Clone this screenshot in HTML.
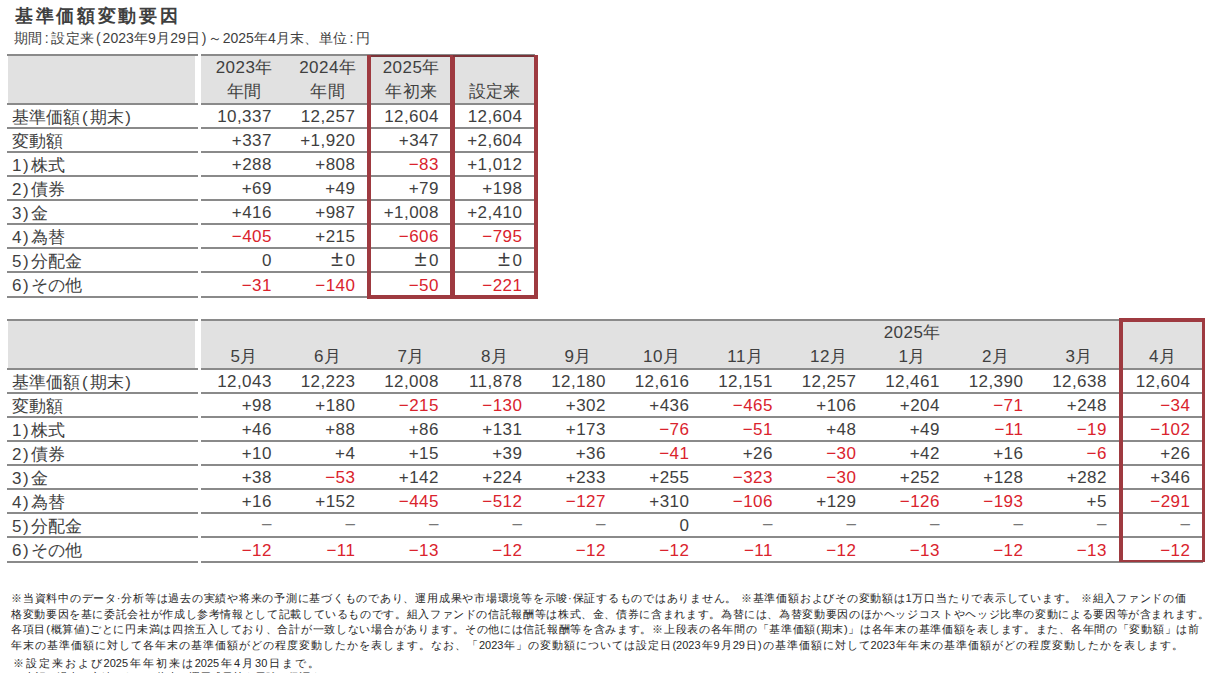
<!DOCTYPE html><html><head><meta charset="utf-8"><style>
html,body{margin:0;padding:0;background:#fff;}
body{width:1207px;height:673px;overflow:hidden;position:relative;font-family:"Liberation Sans",sans-serif;color:#3f3f3f;}
.t{position:absolute;white-space:nowrap;}
.n{font-size:17px;letter-spacing:0.45px;}
.h .dg{letter-spacing:0.45px;}
.l{font-size:17px;}
.h{font-size:17px;letter-spacing:0.45px;}
.d{color:#777;}
.pm{font-size:22px;margin-right:2px;line-height:0;}
.pl{padding:0 2px 0 2px;}
.c{padding:0 2.5px;}
.pr{padding:0 2px 0 1.5px;}
.fn{position:absolute;left:11px;font-size:11px;color:#262626;white-space:nowrap;line-height:15.5px;text-align:justify;text-align-last:justify;}

</style></head><body>
<div class="t" style="left:15px;top:3px;font-size:18px;letter-spacing:2.7px;font-weight:bold;line-height:26px;">基準価額変動要因</div>
<div class="t" style="left:14px;top:29px;width:356px;font-size:14px;line-height:18px;text-align:justify;text-align-last:justify;">期間<span class="c">:</span>設定来<span class="pl">(</span>2023年9月29日<span class="pr">)</span>～2025年4月末、単位<span class="c">:</span>円</div>
<div style="position:absolute;left:8.00px;top:56.00px;width:187.00px;height:47.00px;background:#e1e1e1"></div>
<div style="position:absolute;left:201.00px;top:56.00px;width:334.00px;height:47.00px;background:#e1e1e1"></div>
<div style="position:absolute;left:7.00px;top:54.00px;width:191.00px;height:2.00px;background:#8a8a8a"></div>
<div style="position:absolute;left:201.00px;top:54.00px;width:334.00px;height:2.00px;background:#8a8a8a"></div>
<div style="position:absolute;left:7.00px;top:103.00px;width:191.00px;height:2.00px;background:#8a8a8a"></div>
<div style="position:absolute;left:201.00px;top:103.00px;width:334.00px;height:2.00px;background:#8a8a8a"></div>
<div style="position:absolute;left:7.00px;top:127.00px;width:191.00px;height:2.00px;background:#8a8a8a"></div>
<div style="position:absolute;left:201.00px;top:127.00px;width:334.00px;height:2.00px;background:#8a8a8a"></div>
<div style="position:absolute;left:7.00px;top:151.00px;width:191.00px;height:2.00px;background:#8a8a8a"></div>
<div style="position:absolute;left:201.00px;top:151.00px;width:334.00px;height:2.00px;background:#8a8a8a"></div>
<div style="position:absolute;left:7.00px;top:175.00px;width:191.00px;height:2.00px;background:#8a8a8a"></div>
<div style="position:absolute;left:201.00px;top:175.00px;width:334.00px;height:2.00px;background:#8a8a8a"></div>
<div style="position:absolute;left:7.00px;top:199.00px;width:191.00px;height:2.00px;background:#8a8a8a"></div>
<div style="position:absolute;left:201.00px;top:199.00px;width:334.00px;height:2.00px;background:#8a8a8a"></div>
<div style="position:absolute;left:7.00px;top:223.00px;width:191.00px;height:2.00px;background:#8a8a8a"></div>
<div style="position:absolute;left:201.00px;top:223.00px;width:334.00px;height:2.00px;background:#8a8a8a"></div>
<div style="position:absolute;left:7.00px;top:247.00px;width:191.00px;height:2.00px;background:#8a8a8a"></div>
<div style="position:absolute;left:201.00px;top:247.00px;width:334.00px;height:2.00px;background:#8a8a8a"></div>
<div style="position:absolute;left:7.00px;top:271.00px;width:191.00px;height:2.00px;background:#8a8a8a"></div>
<div style="position:absolute;left:201.00px;top:271.00px;width:334.00px;height:2.00px;background:#8a8a8a"></div>
<div style="position:absolute;left:7.00px;top:296.00px;width:191.00px;height:2.00px;background:#8a8a8a"></div>
<div style="position:absolute;left:201.00px;top:296.00px;width:334.00px;height:2.00px;background:#8a8a8a"></div>
<div class="t h" style="left:202.50px;top:55.50px;width:83.50px;height:24.00px;line-height:24.00px;text-align:center;">2023年</div>
<div class="t h" style="left:202.50px;top:80.00px;width:83.50px;height:24.00px;line-height:24.00px;text-align:center;">年間</div>
<div class="t h" style="left:286.00px;top:55.50px;width:83.50px;height:24.00px;line-height:24.00px;text-align:center;">2024年</div>
<div class="t h" style="left:286.00px;top:80.00px;width:83.50px;height:24.00px;line-height:24.00px;text-align:center;">年間</div>
<div class="t h" style="left:369.50px;top:55.50px;width:83.50px;height:24.00px;line-height:24.00px;text-align:center;">2025年</div>
<div class="t h" style="left:369.50px;top:80.00px;width:83.50px;height:24.00px;line-height:24.00px;text-align:center;">年初来</div>
<div class="t h" style="left:453.00px;top:80.00px;width:83.50px;height:24.00px;line-height:24.00px;text-align:center;">設定来</div>
<div class="t l" style="left:12.00px;top:106.50px;width:185.00px;height:22.00px;line-height:22.00px;text-align:left;">基準価額<span class="pl">(</span>期末<span class="pr">)</span></div>
<div class="t n" style="left:201.00px;top:106.00px;width:70.85px;height:22.00px;line-height:22.00px;text-align:right;">10,337</div>
<div class="t n" style="left:284.50px;top:106.00px;width:70.85px;height:22.00px;line-height:22.00px;text-align:right;">12,257</div>
<div class="t n" style="left:368.00px;top:106.00px;width:70.85px;height:22.00px;line-height:22.00px;text-align:right;">12,604</div>
<div class="t n" style="left:451.50px;top:106.00px;width:70.85px;height:22.00px;line-height:22.00px;text-align:right;">12,604</div>
<div class="t l" style="left:12.00px;top:130.50px;width:185.00px;height:22.00px;line-height:22.00px;text-align:left;">変動額</div>
<div class="t n" style="left:201.00px;top:130.00px;width:70.85px;height:22.00px;line-height:22.00px;text-align:right;">+337</div>
<div class="t n" style="left:284.50px;top:130.00px;width:70.85px;height:22.00px;line-height:22.00px;text-align:right;">+1,920</div>
<div class="t n" style="left:368.00px;top:130.00px;width:70.85px;height:22.00px;line-height:22.00px;text-align:right;">+347</div>
<div class="t n" style="left:451.50px;top:130.00px;width:70.85px;height:22.00px;line-height:22.00px;text-align:right;">+2,604</div>
<div class="t l" style="left:12.00px;top:154.50px;width:185.00px;height:22.00px;line-height:22.00px;text-align:left;">1<span class="pr">)</span>株式</div>
<div class="t n" style="left:201.00px;top:154.00px;width:70.85px;height:22.00px;line-height:22.00px;text-align:right;">+288</div>
<div class="t n" style="left:284.50px;top:154.00px;width:70.85px;height:22.00px;line-height:22.00px;text-align:right;">+808</div>
<div class="t n" style="left:368.00px;top:154.00px;width:70.85px;height:22.00px;line-height:22.00px;text-align:right;color:#da232d;">−83</div>
<div class="t n" style="left:451.50px;top:154.00px;width:70.85px;height:22.00px;line-height:22.00px;text-align:right;">+1,012</div>
<div class="t l" style="left:12.00px;top:178.50px;width:185.00px;height:22.00px;line-height:22.00px;text-align:left;">2<span class="pr">)</span>債券</div>
<div class="t n" style="left:201.00px;top:178.00px;width:70.85px;height:22.00px;line-height:22.00px;text-align:right;">+69</div>
<div class="t n" style="left:284.50px;top:178.00px;width:70.85px;height:22.00px;line-height:22.00px;text-align:right;">+49</div>
<div class="t n" style="left:368.00px;top:178.00px;width:70.85px;height:22.00px;line-height:22.00px;text-align:right;">+79</div>
<div class="t n" style="left:451.50px;top:178.00px;width:70.85px;height:22.00px;line-height:22.00px;text-align:right;">+198</div>
<div class="t l" style="left:12.00px;top:202.50px;width:185.00px;height:22.00px;line-height:22.00px;text-align:left;">3<span class="pr">)</span>金</div>
<div class="t n" style="left:201.00px;top:202.00px;width:70.85px;height:22.00px;line-height:22.00px;text-align:right;">+416</div>
<div class="t n" style="left:284.50px;top:202.00px;width:70.85px;height:22.00px;line-height:22.00px;text-align:right;">+987</div>
<div class="t n" style="left:368.00px;top:202.00px;width:70.85px;height:22.00px;line-height:22.00px;text-align:right;">+1,008</div>
<div class="t n" style="left:451.50px;top:202.00px;width:70.85px;height:22.00px;line-height:22.00px;text-align:right;">+2,410</div>
<div class="t l" style="left:12.00px;top:226.50px;width:185.00px;height:22.00px;line-height:22.00px;text-align:left;">4<span class="pr">)</span>為替</div>
<div class="t n" style="left:201.00px;top:226.00px;width:70.85px;height:22.00px;line-height:22.00px;text-align:right;color:#da232d;">−405</div>
<div class="t n" style="left:284.50px;top:226.00px;width:70.85px;height:22.00px;line-height:22.00px;text-align:right;">+215</div>
<div class="t n" style="left:368.00px;top:226.00px;width:70.85px;height:22.00px;line-height:22.00px;text-align:right;color:#da232d;">−606</div>
<div class="t n" style="left:451.50px;top:226.00px;width:70.85px;height:22.00px;line-height:22.00px;text-align:right;color:#da232d;">−795</div>
<div class="t l" style="left:12.00px;top:250.50px;width:185.00px;height:22.00px;line-height:22.00px;text-align:left;">5<span class="pr">)</span>分配金</div>
<div class="t n" style="left:201.00px;top:250.00px;width:70.85px;height:22.00px;line-height:22.00px;text-align:right;">0</div>
<div class="t n" style="left:284.50px;top:250.00px;width:70.85px;height:22.00px;line-height:22.00px;text-align:right;"><span class="pm">±</span>0</div>
<div class="t n" style="left:368.00px;top:250.00px;width:70.85px;height:22.00px;line-height:22.00px;text-align:right;"><span class="pm">±</span>0</div>
<div class="t n" style="left:451.50px;top:250.00px;width:70.85px;height:22.00px;line-height:22.00px;text-align:right;"><span class="pm">±</span>0</div>
<div class="t l" style="left:12.00px;top:275.20px;width:185.00px;height:22.00px;line-height:22.00px;text-align:left;">6<span class="pr">)</span>その他</div>
<div class="t n" style="left:201.00px;top:274.70px;width:70.85px;height:22.00px;line-height:22.00px;text-align:right;color:#da232d;">−31</div>
<div class="t n" style="left:284.50px;top:274.70px;width:70.85px;height:22.00px;line-height:22.00px;text-align:right;color:#da232d;">−140</div>
<div class="t n" style="left:368.00px;top:274.70px;width:70.85px;height:22.00px;line-height:22.00px;text-align:right;color:#da232d;">−50</div>
<div class="t n" style="left:451.50px;top:274.70px;width:70.85px;height:22.00px;line-height:22.00px;text-align:right;color:#da232d;">−221</div>
<div style="position:absolute;left:8.00px;top:321.00px;width:187.00px;height:47.00px;background:#e1e1e1"></div>
<div style="position:absolute;left:201.00px;top:321.00px;width:1002.00px;height:47.00px;background:#e1e1e1"></div>
<div style="position:absolute;left:7.00px;top:319.00px;width:191.00px;height:2.00px;background:#8a8a8a"></div>
<div style="position:absolute;left:201.00px;top:319.00px;width:1002.00px;height:2.00px;background:#8a8a8a"></div>
<div style="position:absolute;left:7.00px;top:368.00px;width:191.00px;height:2.00px;background:#8a8a8a"></div>
<div style="position:absolute;left:201.00px;top:368.00px;width:1002.00px;height:2.00px;background:#8a8a8a"></div>
<div style="position:absolute;left:7.00px;top:392.00px;width:191.00px;height:2.00px;background:#8a8a8a"></div>
<div style="position:absolute;left:201.00px;top:392.00px;width:1002.00px;height:2.00px;background:#8a8a8a"></div>
<div style="position:absolute;left:7.00px;top:416.00px;width:191.00px;height:2.00px;background:#8a8a8a"></div>
<div style="position:absolute;left:201.00px;top:416.00px;width:1002.00px;height:2.00px;background:#8a8a8a"></div>
<div style="position:absolute;left:7.00px;top:440.00px;width:191.00px;height:2.00px;background:#8a8a8a"></div>
<div style="position:absolute;left:201.00px;top:440.00px;width:1002.00px;height:2.00px;background:#8a8a8a"></div>
<div style="position:absolute;left:7.00px;top:464.00px;width:191.00px;height:2.00px;background:#8a8a8a"></div>
<div style="position:absolute;left:201.00px;top:464.00px;width:1002.00px;height:2.00px;background:#8a8a8a"></div>
<div style="position:absolute;left:7.00px;top:488.00px;width:191.00px;height:2.00px;background:#8a8a8a"></div>
<div style="position:absolute;left:201.00px;top:488.00px;width:1002.00px;height:2.00px;background:#8a8a8a"></div>
<div style="position:absolute;left:7.00px;top:512.00px;width:191.00px;height:2.00px;background:#8a8a8a"></div>
<div style="position:absolute;left:201.00px;top:512.00px;width:1002.00px;height:2.00px;background:#8a8a8a"></div>
<div style="position:absolute;left:7.00px;top:536.00px;width:191.00px;height:2.00px;background:#8a8a8a"></div>
<div style="position:absolute;left:201.00px;top:536.00px;width:1002.00px;height:2.00px;background:#8a8a8a"></div>
<div style="position:absolute;left:7.00px;top:561.00px;width:191.00px;height:2.00px;background:#8a8a8a"></div>
<div style="position:absolute;left:201.00px;top:561.00px;width:1002.00px;height:2.00px;background:#8a8a8a"></div>
<div class="t h" style="left:202.50px;top:345.00px;width:83.50px;height:24.00px;line-height:24.00px;text-align:center;">5月</div>
<div class="t h" style="left:286.00px;top:345.00px;width:83.50px;height:24.00px;line-height:24.00px;text-align:center;">6月</div>
<div class="t h" style="left:369.50px;top:345.00px;width:83.50px;height:24.00px;line-height:24.00px;text-align:center;">7月</div>
<div class="t h" style="left:453.00px;top:345.00px;width:83.50px;height:24.00px;line-height:24.00px;text-align:center;">8月</div>
<div class="t h" style="left:536.50px;top:345.00px;width:83.50px;height:24.00px;line-height:24.00px;text-align:center;">9月</div>
<div class="t h" style="left:620.00px;top:345.00px;width:83.50px;height:24.00px;line-height:24.00px;text-align:center;">10月</div>
<div class="t h" style="left:703.50px;top:345.00px;width:83.50px;height:24.00px;line-height:24.00px;text-align:center;">11月</div>
<div class="t h" style="left:787.00px;top:345.00px;width:83.50px;height:24.00px;line-height:24.00px;text-align:center;">12月</div>
<div class="t h" style="left:870.50px;top:320.50px;width:83.50px;height:24.00px;line-height:24.00px;text-align:center;">2025年</div>
<div class="t h" style="left:870.50px;top:345.00px;width:83.50px;height:24.00px;line-height:24.00px;text-align:center;">1月</div>
<div class="t h" style="left:954.00px;top:345.00px;width:83.50px;height:24.00px;line-height:24.00px;text-align:center;">2月</div>
<div class="t h" style="left:1037.50px;top:345.00px;width:83.50px;height:24.00px;line-height:24.00px;text-align:center;">3月</div>
<div class="t h" style="left:1121.00px;top:345.00px;width:83.50px;height:24.00px;line-height:24.00px;text-align:center;">4月</div>
<div class="t l" style="left:12.00px;top:371.50px;width:185.00px;height:22.00px;line-height:22.00px;text-align:left;">基準価額<span class="pl">(</span>期末<span class="pr">)</span></div>
<div class="t n" style="left:201.00px;top:371.00px;width:70.85px;height:22.00px;line-height:22.00px;text-align:right;">12,043</div>
<div class="t n" style="left:284.50px;top:371.00px;width:70.85px;height:22.00px;line-height:22.00px;text-align:right;">12,223</div>
<div class="t n" style="left:368.00px;top:371.00px;width:70.85px;height:22.00px;line-height:22.00px;text-align:right;">12,008</div>
<div class="t n" style="left:451.50px;top:371.00px;width:70.85px;height:22.00px;line-height:22.00px;text-align:right;">11,878</div>
<div class="t n" style="left:535.00px;top:371.00px;width:70.85px;height:22.00px;line-height:22.00px;text-align:right;">12,180</div>
<div class="t n" style="left:618.50px;top:371.00px;width:70.85px;height:22.00px;line-height:22.00px;text-align:right;">12,616</div>
<div class="t n" style="left:702.00px;top:371.00px;width:70.85px;height:22.00px;line-height:22.00px;text-align:right;">12,151</div>
<div class="t n" style="left:785.50px;top:371.00px;width:70.85px;height:22.00px;line-height:22.00px;text-align:right;">12,257</div>
<div class="t n" style="left:869.00px;top:371.00px;width:70.85px;height:22.00px;line-height:22.00px;text-align:right;">12,461</div>
<div class="t n" style="left:952.50px;top:371.00px;width:70.85px;height:22.00px;line-height:22.00px;text-align:right;">12,390</div>
<div class="t n" style="left:1036.00px;top:371.00px;width:70.85px;height:22.00px;line-height:22.00px;text-align:right;">12,638</div>
<div class="t n" style="left:1119.50px;top:371.00px;width:70.85px;height:22.00px;line-height:22.00px;text-align:right;">12,604</div>
<div class="t l" style="left:12.00px;top:395.50px;width:185.00px;height:22.00px;line-height:22.00px;text-align:left;">変動額</div>
<div class="t n" style="left:201.00px;top:395.00px;width:70.85px;height:22.00px;line-height:22.00px;text-align:right;">+98</div>
<div class="t n" style="left:284.50px;top:395.00px;width:70.85px;height:22.00px;line-height:22.00px;text-align:right;">+180</div>
<div class="t n" style="left:368.00px;top:395.00px;width:70.85px;height:22.00px;line-height:22.00px;text-align:right;color:#da232d;">−215</div>
<div class="t n" style="left:451.50px;top:395.00px;width:70.85px;height:22.00px;line-height:22.00px;text-align:right;color:#da232d;">−130</div>
<div class="t n" style="left:535.00px;top:395.00px;width:70.85px;height:22.00px;line-height:22.00px;text-align:right;">+302</div>
<div class="t n" style="left:618.50px;top:395.00px;width:70.85px;height:22.00px;line-height:22.00px;text-align:right;">+436</div>
<div class="t n" style="left:702.00px;top:395.00px;width:70.85px;height:22.00px;line-height:22.00px;text-align:right;color:#da232d;">−465</div>
<div class="t n" style="left:785.50px;top:395.00px;width:70.85px;height:22.00px;line-height:22.00px;text-align:right;">+106</div>
<div class="t n" style="left:869.00px;top:395.00px;width:70.85px;height:22.00px;line-height:22.00px;text-align:right;">+204</div>
<div class="t n" style="left:952.50px;top:395.00px;width:70.85px;height:22.00px;line-height:22.00px;text-align:right;color:#da232d;">−71</div>
<div class="t n" style="left:1036.00px;top:395.00px;width:70.85px;height:22.00px;line-height:22.00px;text-align:right;">+248</div>
<div class="t n" style="left:1119.50px;top:395.00px;width:70.85px;height:22.00px;line-height:22.00px;text-align:right;color:#da232d;">−34</div>
<div class="t l" style="left:12.00px;top:419.50px;width:185.00px;height:22.00px;line-height:22.00px;text-align:left;">1<span class="pr">)</span>株式</div>
<div class="t n" style="left:201.00px;top:419.00px;width:70.85px;height:22.00px;line-height:22.00px;text-align:right;">+46</div>
<div class="t n" style="left:284.50px;top:419.00px;width:70.85px;height:22.00px;line-height:22.00px;text-align:right;">+88</div>
<div class="t n" style="left:368.00px;top:419.00px;width:70.85px;height:22.00px;line-height:22.00px;text-align:right;">+86</div>
<div class="t n" style="left:451.50px;top:419.00px;width:70.85px;height:22.00px;line-height:22.00px;text-align:right;">+131</div>
<div class="t n" style="left:535.00px;top:419.00px;width:70.85px;height:22.00px;line-height:22.00px;text-align:right;">+173</div>
<div class="t n" style="left:618.50px;top:419.00px;width:70.85px;height:22.00px;line-height:22.00px;text-align:right;color:#da232d;">−76</div>
<div class="t n" style="left:702.00px;top:419.00px;width:70.85px;height:22.00px;line-height:22.00px;text-align:right;color:#da232d;">−51</div>
<div class="t n" style="left:785.50px;top:419.00px;width:70.85px;height:22.00px;line-height:22.00px;text-align:right;">+48</div>
<div class="t n" style="left:869.00px;top:419.00px;width:70.85px;height:22.00px;line-height:22.00px;text-align:right;">+49</div>
<div class="t n" style="left:952.50px;top:419.00px;width:70.85px;height:22.00px;line-height:22.00px;text-align:right;color:#da232d;">−11</div>
<div class="t n" style="left:1036.00px;top:419.00px;width:70.85px;height:22.00px;line-height:22.00px;text-align:right;color:#da232d;">−19</div>
<div class="t n" style="left:1119.50px;top:419.00px;width:70.85px;height:22.00px;line-height:22.00px;text-align:right;color:#da232d;">−102</div>
<div class="t l" style="left:12.00px;top:443.50px;width:185.00px;height:22.00px;line-height:22.00px;text-align:left;">2<span class="pr">)</span>債券</div>
<div class="t n" style="left:201.00px;top:443.00px;width:70.85px;height:22.00px;line-height:22.00px;text-align:right;">+10</div>
<div class="t n" style="left:284.50px;top:443.00px;width:70.85px;height:22.00px;line-height:22.00px;text-align:right;">+4</div>
<div class="t n" style="left:368.00px;top:443.00px;width:70.85px;height:22.00px;line-height:22.00px;text-align:right;">+15</div>
<div class="t n" style="left:451.50px;top:443.00px;width:70.85px;height:22.00px;line-height:22.00px;text-align:right;">+39</div>
<div class="t n" style="left:535.00px;top:443.00px;width:70.85px;height:22.00px;line-height:22.00px;text-align:right;">+36</div>
<div class="t n" style="left:618.50px;top:443.00px;width:70.85px;height:22.00px;line-height:22.00px;text-align:right;color:#da232d;">−41</div>
<div class="t n" style="left:702.00px;top:443.00px;width:70.85px;height:22.00px;line-height:22.00px;text-align:right;">+26</div>
<div class="t n" style="left:785.50px;top:443.00px;width:70.85px;height:22.00px;line-height:22.00px;text-align:right;color:#da232d;">−30</div>
<div class="t n" style="left:869.00px;top:443.00px;width:70.85px;height:22.00px;line-height:22.00px;text-align:right;">+42</div>
<div class="t n" style="left:952.50px;top:443.00px;width:70.85px;height:22.00px;line-height:22.00px;text-align:right;">+16</div>
<div class="t n" style="left:1036.00px;top:443.00px;width:70.85px;height:22.00px;line-height:22.00px;text-align:right;color:#da232d;">−6</div>
<div class="t n" style="left:1119.50px;top:443.00px;width:70.85px;height:22.00px;line-height:22.00px;text-align:right;">+26</div>
<div class="t l" style="left:12.00px;top:467.50px;width:185.00px;height:22.00px;line-height:22.00px;text-align:left;">3<span class="pr">)</span>金</div>
<div class="t n" style="left:201.00px;top:467.00px;width:70.85px;height:22.00px;line-height:22.00px;text-align:right;">+38</div>
<div class="t n" style="left:284.50px;top:467.00px;width:70.85px;height:22.00px;line-height:22.00px;text-align:right;color:#da232d;">−53</div>
<div class="t n" style="left:368.00px;top:467.00px;width:70.85px;height:22.00px;line-height:22.00px;text-align:right;">+142</div>
<div class="t n" style="left:451.50px;top:467.00px;width:70.85px;height:22.00px;line-height:22.00px;text-align:right;">+224</div>
<div class="t n" style="left:535.00px;top:467.00px;width:70.85px;height:22.00px;line-height:22.00px;text-align:right;">+233</div>
<div class="t n" style="left:618.50px;top:467.00px;width:70.85px;height:22.00px;line-height:22.00px;text-align:right;">+255</div>
<div class="t n" style="left:702.00px;top:467.00px;width:70.85px;height:22.00px;line-height:22.00px;text-align:right;color:#da232d;">−323</div>
<div class="t n" style="left:785.50px;top:467.00px;width:70.85px;height:22.00px;line-height:22.00px;text-align:right;color:#da232d;">−30</div>
<div class="t n" style="left:869.00px;top:467.00px;width:70.85px;height:22.00px;line-height:22.00px;text-align:right;">+252</div>
<div class="t n" style="left:952.50px;top:467.00px;width:70.85px;height:22.00px;line-height:22.00px;text-align:right;">+128</div>
<div class="t n" style="left:1036.00px;top:467.00px;width:70.85px;height:22.00px;line-height:22.00px;text-align:right;">+282</div>
<div class="t n" style="left:1119.50px;top:467.00px;width:70.85px;height:22.00px;line-height:22.00px;text-align:right;">+346</div>
<div class="t l" style="left:12.00px;top:491.50px;width:185.00px;height:22.00px;line-height:22.00px;text-align:left;">4<span class="pr">)</span>為替</div>
<div class="t n" style="left:201.00px;top:491.00px;width:70.85px;height:22.00px;line-height:22.00px;text-align:right;">+16</div>
<div class="t n" style="left:284.50px;top:491.00px;width:70.85px;height:22.00px;line-height:22.00px;text-align:right;">+152</div>
<div class="t n" style="left:368.00px;top:491.00px;width:70.85px;height:22.00px;line-height:22.00px;text-align:right;color:#da232d;">−445</div>
<div class="t n" style="left:451.50px;top:491.00px;width:70.85px;height:22.00px;line-height:22.00px;text-align:right;color:#da232d;">−512</div>
<div class="t n" style="left:535.00px;top:491.00px;width:70.85px;height:22.00px;line-height:22.00px;text-align:right;color:#da232d;">−127</div>
<div class="t n" style="left:618.50px;top:491.00px;width:70.85px;height:22.00px;line-height:22.00px;text-align:right;">+310</div>
<div class="t n" style="left:702.00px;top:491.00px;width:70.85px;height:22.00px;line-height:22.00px;text-align:right;color:#da232d;">−106</div>
<div class="t n" style="left:785.50px;top:491.00px;width:70.85px;height:22.00px;line-height:22.00px;text-align:right;">+129</div>
<div class="t n" style="left:869.00px;top:491.00px;width:70.85px;height:22.00px;line-height:22.00px;text-align:right;color:#da232d;">−126</div>
<div class="t n" style="left:952.50px;top:491.00px;width:70.85px;height:22.00px;line-height:22.00px;text-align:right;color:#da232d;">−193</div>
<div class="t n" style="left:1036.00px;top:491.00px;width:70.85px;height:22.00px;line-height:22.00px;text-align:right;">+5</div>
<div class="t n" style="left:1119.50px;top:491.00px;width:70.85px;height:22.00px;line-height:22.00px;text-align:right;color:#da232d;">−291</div>
<div class="t l" style="left:12.00px;top:515.50px;width:185.00px;height:22.00px;line-height:22.00px;text-align:left;">5<span class="pr">)</span>分配金</div>
<div class="t n d" style="left:201.00px;top:513.00px;width:70.85px;height:22.00px;line-height:22.00px;text-align:right;">–</div>
<div class="t n d" style="left:284.50px;top:513.00px;width:70.85px;height:22.00px;line-height:22.00px;text-align:right;">–</div>
<div class="t n d" style="left:368.00px;top:513.00px;width:70.85px;height:22.00px;line-height:22.00px;text-align:right;">–</div>
<div class="t n d" style="left:451.50px;top:513.00px;width:70.85px;height:22.00px;line-height:22.00px;text-align:right;">–</div>
<div class="t n d" style="left:535.00px;top:513.00px;width:70.85px;height:22.00px;line-height:22.00px;text-align:right;">–</div>
<div class="t n" style="left:618.50px;top:515.00px;width:70.85px;height:22.00px;line-height:22.00px;text-align:right;">0</div>
<div class="t n d" style="left:702.00px;top:513.00px;width:70.85px;height:22.00px;line-height:22.00px;text-align:right;">–</div>
<div class="t n d" style="left:785.50px;top:513.00px;width:70.85px;height:22.00px;line-height:22.00px;text-align:right;">–</div>
<div class="t n d" style="left:869.00px;top:513.00px;width:70.85px;height:22.00px;line-height:22.00px;text-align:right;">–</div>
<div class="t n d" style="left:952.50px;top:513.00px;width:70.85px;height:22.00px;line-height:22.00px;text-align:right;">–</div>
<div class="t n d" style="left:1036.00px;top:513.00px;width:70.85px;height:22.00px;line-height:22.00px;text-align:right;">–</div>
<div class="t n d" style="left:1119.50px;top:513.00px;width:70.85px;height:22.00px;line-height:22.00px;text-align:right;">–</div>
<div class="t l" style="left:12.00px;top:540.20px;width:185.00px;height:22.00px;line-height:22.00px;text-align:left;">6<span class="pr">)</span>その他</div>
<div class="t n" style="left:201.00px;top:539.70px;width:70.85px;height:22.00px;line-height:22.00px;text-align:right;color:#da232d;">−12</div>
<div class="t n" style="left:284.50px;top:539.70px;width:70.85px;height:22.00px;line-height:22.00px;text-align:right;color:#da232d;">−11</div>
<div class="t n" style="left:368.00px;top:539.70px;width:70.85px;height:22.00px;line-height:22.00px;text-align:right;color:#da232d;">−13</div>
<div class="t n" style="left:451.50px;top:539.70px;width:70.85px;height:22.00px;line-height:22.00px;text-align:right;color:#da232d;">−12</div>
<div class="t n" style="left:535.00px;top:539.70px;width:70.85px;height:22.00px;line-height:22.00px;text-align:right;color:#da232d;">−12</div>
<div class="t n" style="left:618.50px;top:539.70px;width:70.85px;height:22.00px;line-height:22.00px;text-align:right;color:#da232d;">−12</div>
<div class="t n" style="left:702.00px;top:539.70px;width:70.85px;height:22.00px;line-height:22.00px;text-align:right;color:#da232d;">−11</div>
<div class="t n" style="left:785.50px;top:539.70px;width:70.85px;height:22.00px;line-height:22.00px;text-align:right;color:#da232d;">−12</div>
<div class="t n" style="left:869.00px;top:539.70px;width:70.85px;height:22.00px;line-height:22.00px;text-align:right;color:#da232d;">−13</div>
<div class="t n" style="left:952.50px;top:539.70px;width:70.85px;height:22.00px;line-height:22.00px;text-align:right;color:#da232d;">−12</div>
<div class="t n" style="left:1036.00px;top:539.70px;width:70.85px;height:22.00px;line-height:22.00px;text-align:right;color:#da232d;">−13</div>
<div class="t n" style="left:1119.50px;top:539.70px;width:70.85px;height:22.00px;line-height:22.00px;text-align:right;color:#da232d;">−12</div>
<div style="position:absolute;left:367.00px;top:54.50px;width:88.00px;height:2.50px;background:#7a3338"></div>
<div style="position:absolute;left:367.00px;top:295.00px;width:88.00px;height:3.50px;background:#9e3a40"></div>
<div style="position:absolute;left:367.00px;top:54.50px;width:3.50px;height:244.00px;background:#9e3a40"></div>
<div style="position:absolute;left:452.00px;top:54.50px;width:3.00px;height:244.00px;background:#9e3a40"></div>
<div style="position:absolute;left:450.00px;top:54.50px;width:87.50px;height:2.50px;background:#7a3338"></div>
<div style="position:absolute;left:450.00px;top:295.00px;width:87.50px;height:3.50px;background:#9e3a40"></div>
<div style="position:absolute;left:450.00px;top:54.50px;width:3.00px;height:244.00px;background:#9e3a40"></div>
<div style="position:absolute;left:534.00px;top:54.50px;width:3.50px;height:244.00px;background:#9e3a40"></div>
<div style="position:absolute;left:1119.00px;top:318.00px;width:86.00px;height:3.50px;background:#9e3a40"></div>
<div style="position:absolute;left:1119.00px;top:559.50px;width:86.00px;height:2.50px;background:#9e3a40"></div>
<div style="position:absolute;left:1119.00px;top:318.00px;width:3.50px;height:244.00px;background:#9e3a40"></div>
<div style="position:absolute;left:1202.00px;top:318.00px;width:3.00px;height:244.00px;background:#9e3a40"></div>
<div class="fn" style="top:591.0px;width:1175px">※当資料中のデータ·分析等は過去の実績や将来の予測に基づくものであり、運用成果や市場環境等を示唆·保証するものではありません。 ※基準価額およびその変動額は1万口当たりで表示しています。 ※組入ファンドの価</div>
<div class="fn" style="top:606.5px;width:1198px">格変動要因を基に委託会社が作成し参考情報として記載しているものです。組入ファンドの信託報酬等は株式、金、債券に含まれます。為替には、為替変動要因のほかヘッジコストやヘッジ比率の変動による要因等が含まれます。</div>
<div class="fn" style="top:622.0px;width:1188px">各項目(概算値)ごとに円未満は四捨五入しており、合計が一致しない場合があります。その他には信託報酬等を含みます。※上段表の各年間の「基準価額(期末)」は各年末の基準価額を表します。また、各年間の「変動額」は前</div>
<div class="fn" style="top:637.5px;width:1172px">年末の基準価額に対して各年末の基準価額がどの程度変動したかを表します。なお、「2023年」の変動額については設定日(2023年9月29日)の基準価額に対して2023年年末の基準価額がどの程度変動したかを表します。</div>
<div class="fn" style="left:13px;top:656px;width:306px">※設定来および2025年年初来は2025年4月30日まで。</div>
<div class="fn" style="left:13px;top:669.5px">※上記は過去の実績であり、将来の運用成果等を示唆・保証するもの</div>
</body></html>
